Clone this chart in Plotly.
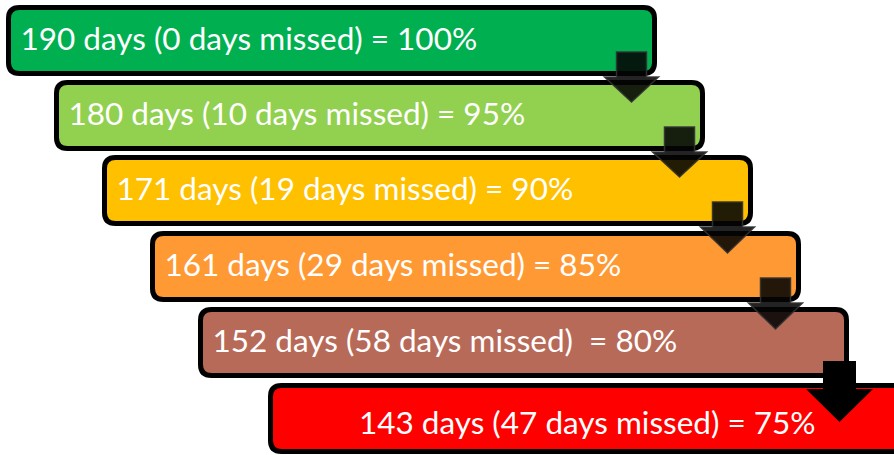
import plotly.graph_objects as go

# ---- data ----
days = [190, 180, 171, 161, 152, 143]
missed = [0, 10, 19, 29, 58, 47]
percent = [100, 95, 90, 85, 80, 75]
labels = [
    "190 days (0 days missed) = 100%",
    "180 days (10 days missed) = 95%",
    "171 days (19 days missed) = 90%",
    "161 days (29 days missed) = 85%",
    "152 days (58 days missed)  = 80%",
    "143 days (47 days missed) = 75%",
]
colors = ["#00B050", "#92D050", "#FFC000", "#FF9933", "#B86A58", "#FF0000"]

# ---- layout geometry (page pixels) ----
W, H = 894, 455
lefts = [8.5, 56.5, 104.5, 152.5, 200.5, 270.5]
tops = [7.5, 82.5, 157.5, 233.5, 309.5, 385.5]
box_w = 646
box_h = 66


def rrect(x0, y0, x1, y1, r):
    return (f"M{x0+r},{y0} L{x1-r},{y0} Q{x1},{y0} {x1},{y0+r} "
            f"L{x1},{y1-r} Q{x1},{y1} {x1-r},{y1} L{x0+r},{y1} "
            f"Q{x0},{y1} {x0},{y1-r} L{x0},{y0+r} Q{x0},{y0} {x0+r},{y0} Z")


def open_right(x0, y0, x1, y1, r):
    # rounded on the left, running off the right edge of the page
    return (f"M{x1},{y0} L{x0+r},{y0} Q{x0},{y0} {x0},{y0+r} "
            f"L{x0},{y1-r} Q{x0},{y1} {x0+r},{y1} L{x1},{y1}")


fig = go.Figure()
shapes = []
n = len(labels)
rights = []
for i in range(n):
    x0, y0 = lefts[i], tops[i]
    y1 = y0 + box_h
    if i == n - 1:
        x1 = W + 40
        path = open_right(x0, y0, x1, y1, 11)
    else:
        x1 = x0 + box_w
        path = rrect(x0, y0, x1, y1, 11)
    rights.append(x1)
    shapes.append(dict(type="path", path=path,
                       xref="x", yref="y", fillcolor=colors[i],
                       line=dict(color="#000000", width=5), layer="below"))

# arrows between boxes
for i in range(n - 1):
    bottom = tops[i] + box_h + 2.5
    nxt_top = tops[i + 1] - 2.5
    if i < n - 2:
        cx = rights[i] - 23
        sw, hw = 15, 27
        s_top = bottom - 24
        h_top = bottom + 1
        tip = nxt_top + 22
        fill = "rgba(5,5,5,0.88)"
        lc = "rgba(50,50,50,0.9)"
        lw = 1.5
    else:
        cx = rights[i] - 7
        sw, hw = 16.5, 33.5
        s_top = bottom - 17
        h_top = bottom + 11
        tip = h_top + 33
        fill = "#000000"
        lc = "#000000"
        lw = 0
    path = (f"M{cx-sw},{s_top} L{cx+sw},{s_top} L{cx+sw},{h_top} L{cx+hw},{h_top} "
            f"L{cx},{tip} L{cx-hw},{h_top} L{cx-sw},{h_top} Z")
    shapes.append(dict(type="path", path=path, xref="x", yref="y",
                       fillcolor=fill, line=dict(color=lc, width=lw), layer="above"))

# text labels
for i in range(n):
    cy = tops[i] + box_h / 2 + (8 if i == n - 1 else 2)
    if i == n - 1:
        tx, pos = (lefts[i] + 904) / 2, "middle center"
    else:
        tx, pos = lefts[i] + 12, "middle right"
    fig.add_trace(go.Scatter(
        x=[tx], y=[cy], mode="text", text=[labels[i]], textposition=pos,
        textfont=dict(family="Lato", size=31.5, color="white"),
        hoverinfo="skip", showlegend=False,
        customdata=[[days[i], missed[i], percent[i]]],
    ))

fig.update_layout(
    width=W, height=H, margin=dict(l=0, r=0, t=0, b=0),
    paper_bgcolor="white", plot_bgcolor="white",
    shapes=shapes, showlegend=False,
    xaxis=dict(range=[0, W], visible=False, fixedrange=True),
    yaxis=dict(range=[H, 0], visible=False, fixedrange=True),
)
fig.write_html(
    "out.html",
    config={"displayModeBar": False, "staticPlot": True},
    post_script="document.body.style.margin='0';document.body.style.overflow='hidden';",
)
